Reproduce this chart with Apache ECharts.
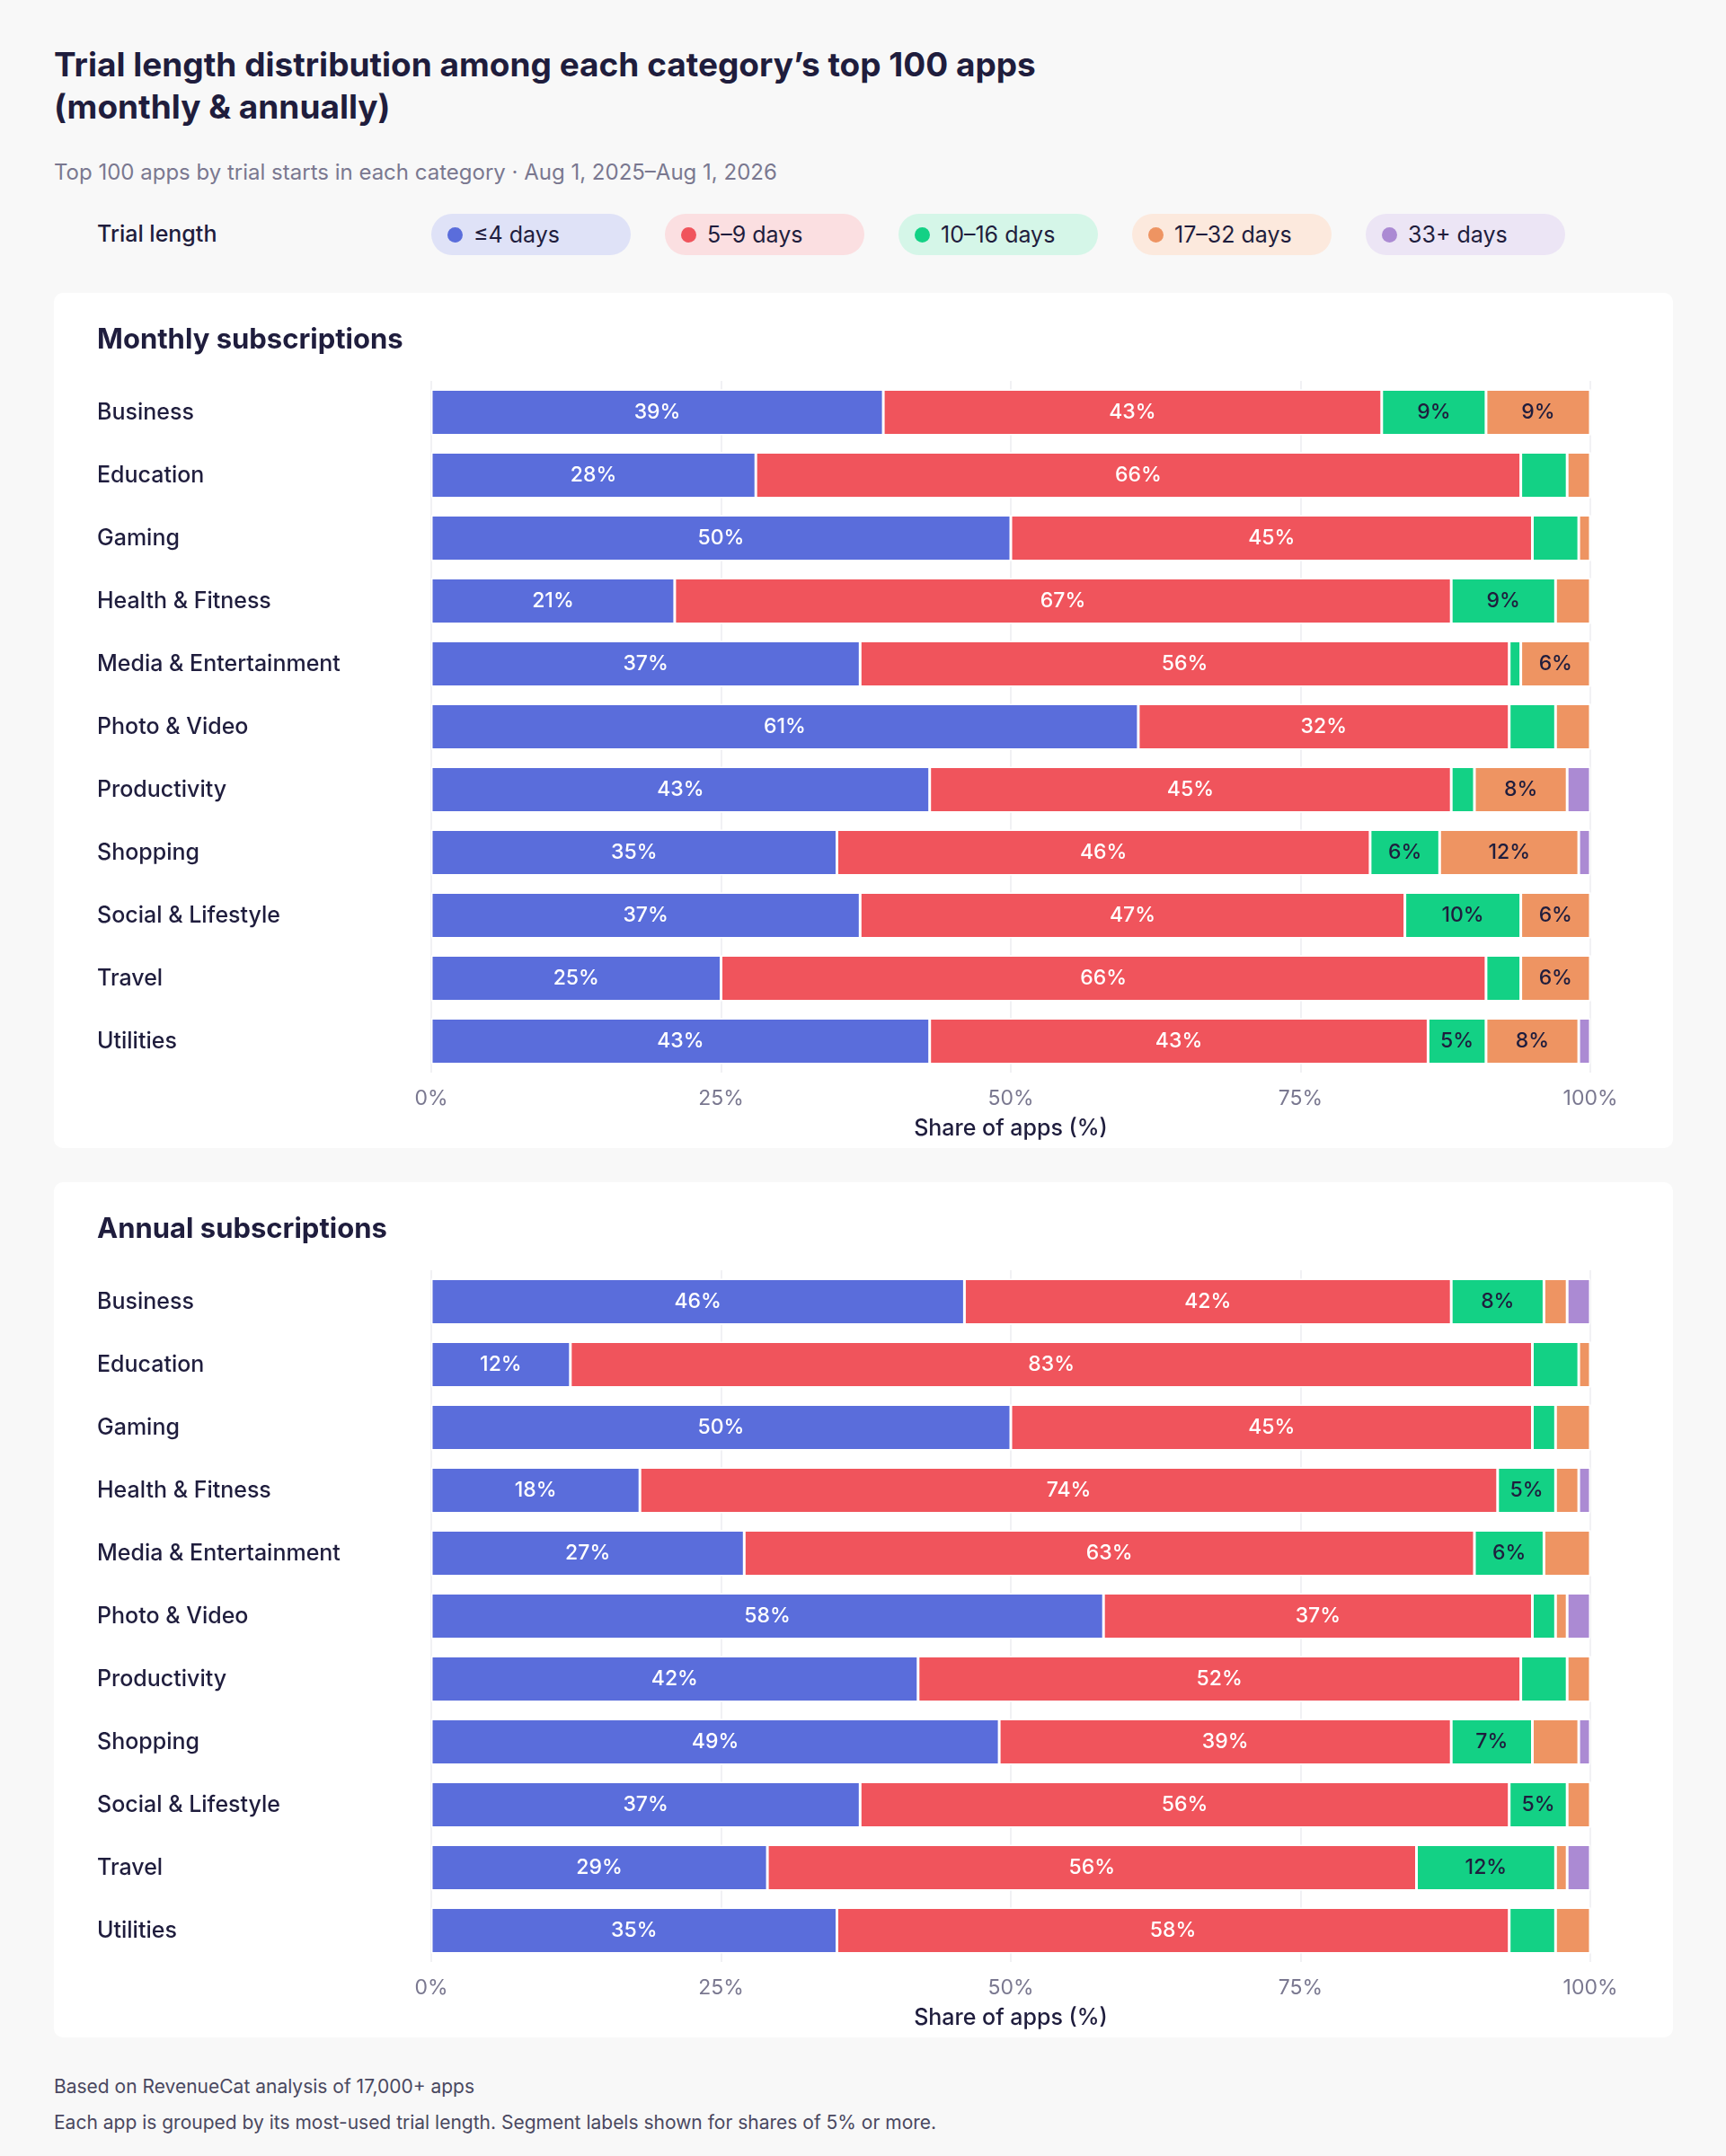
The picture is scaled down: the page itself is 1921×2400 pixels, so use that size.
<!DOCTYPE html>
<html>
<head>
<meta charset="utf-8">
<script src="https://cdn.jsdelivr.net/npm/echarts@6/dist/echarts.min.js"></script>
<style>
  body { margin: 0; background: #f8f8f8; font-family: Inter, "Noto Sans", sans-serif; color: #1f1d3d; }
  .page { position: relative; width: 1921px; height: 2400px; }
  h1 { position: absolute; left: 60px; top: 48px; margin: 0; font-size: 37px; line-height: 47px; font-weight: 700; }
  .sub { position: absolute; left: 60px; top: 177px; font-size: 24px; color: #7a7890; }
  .legend-title { position: absolute; left: 108px; top: 245px; font-size: 25px; font-weight: 500; }
  .pill { position: absolute; top: 238px; width: 222px; height: 46px; border-radius: 23px; font-size: 25px;
          display: flex; align-items: center; box-sizing: border-box; padding-left: 18px; }
  .pill i { width: 17px; height: 17px; border-radius: 50%; margin-right: 12px; display: inline-block; }
  .panel { position: absolute; left: 60px; width: 1802px; height: 952px; background: #fff; border-radius: 10px; }
  .panel h2 { position: absolute; left: 48px; top: 32px; margin: 0; font-size: 31px; font-weight: 700; }
  .panel .chart { position: absolute; left: 0; top: 0; width: 1802px; height: 952px; }
  .foot { position: absolute; left: 60px; font-size: 21px; color: #4a4860; }
</style>
</head>
<body>
<div class="page">
  <h1>Trial length distribution among each category’s top 100 apps<br>(monthly &amp; annually)</h1>
  <div class="sub">Top 100 apps by trial starts in each category · Aug 1, 2025–Aug 1, 2026</div>
  <div class="legend-title">Trial length</div>
  <div id="legend"></div>
  <div class="panel" style="top:326px"><div class="chart" id="monthly"></div><h2>Monthly subscriptions</h2></div>
  <div class="panel" style="top:1316px"><div class="chart" id="annual"></div><h2>Annual subscriptions</h2></div>
  <div class="foot" style="top:2310px">Based on RevenueCat analysis of 17,000+ apps</div>
  <div class="foot" style="top:2350px">Each app is grouped by its most-used trial length. Segment labels shown for shares of 5% or more.</div>
</div>
<script>
const categories = ["Business", "Education", "Gaming", "Health & Fitness", "Media & Entertainment",
  "Photo & Video", "Productivity", "Shopping", "Social & Lifestyle", "Travel", "Utilities"];
const trialLengths = ["≤4 days", "5–9 days", "10–16 days", "17–32 days", "33+ days"];
const colors = ["#5a6ddb", "#f0545c", "#13d185", "#ee9462", "#ab8ad3"];
const pillColors = ["#dfe2f7", "#fbdfe1", "#d5f6e8", "#fce9dd", "#ece5f5"];
const labelColors = ["#ffffff", "#ffffff", "#1f1d3d", "#1f1d3d", "#1f1d3d"];
const axisTicks = ["0%", "25%", "50%", "75%", "100%"];

// monthly, one array per trial length, in category order
const monthly4 = [39, 28, 50, 21, 37, 61, 43, 35, 37, 25, 43];
const monthly9 = [43, 66, 45, 67, 56, 32, 45, 46, 47, 66, 43];
const monthly16 = [9, 4, 4, 9, 1, 4, 2, 6, 10, 3, 5];
const monthly32 = [9, 2, 1, 3, 6, 3, 8, 12, 6, 6, 8];
const monthly33 = [0, 0, 0, 0, 0, 0, 2, 1, 0, 0, 1];

const annual4 = [46, 12, 50, 18, 27, 58, 42, 49, 37, 29, 35];
const annual9 = [42, 83, 45, 74, 63, 37, 52, 39, 56, 56, 58];
const annual16 = [8, 4, 2, 5, 6, 2, 4, 7, 5, 12, 4];
const annual32 = [2, 1, 3, 2, 4, 1, 2, 4, 2, 1, 3];
const annual33 = [2, 0, 0, 1, 0, 2, 0, 1, 0, 2, 0];

const legendBox = document.getElementById("legend");
trialLengths.forEach((name, i) => {
  const pill = document.createElement("div");
  pill.className = "pill";
  pill.style.left = (480 + i * 260) + "px";
  pill.style.background = pillColors[i];
  pill.innerHTML = `<i style="background:${colors[i]}"></i>${name}`;
  legendBox.appendChild(pill);
});

function renderPanel(id, seriesData) {
  const chart = echarts.init(document.getElementById(id));
  chart.setOption({
    animation: false,
    grid: { left: 420, width: 1290, top: 98, height: 770 },
    xAxis: {
      type: "value", min: 0, max: 100, interval: 25,
      name: "Share of apps (%)", nameLocation: "middle", nameGap: 50,
      nameTextStyle: { fontSize: 25, color: "#1f1d3d", fontWeight: 500, fontFamily: "Inter" },
      axisLabel: { fontSize: 23, color: "#7a7890", margin: 18, fontFamily: "Inter",
        formatter: (v) => axisTicks[v / 25] },
      axisLine: { show: false }, axisTick: { show: false },
      splitLine: { lineStyle: { color: "#ececf0", width: 1.5 } },
    },
    yAxis: {
      type: "category", data: categories, inverse: true,
      axisLine: { show: false }, axisTick: { show: false },
      axisLabel: { align: "left", margin: 372, fontSize: 25, color: "#1f1d3d", fontWeight: 500, fontFamily: "Inter" },
    },
    series: seriesData.map((data, i) => ({
      name: trialLengths[i], type: "bar", stack: "total", data: data, barWidth: 51,
      itemStyle: { color: colors[i], borderColor: "#fff", borderWidth: 1.5 },
      label: {
        show: true, position: "inside", fontSize: 23, fontWeight: 500, color: labelColors[i], fontFamily: "Inter",
        formatter: (p) => (p.value >= 5 ? p.value + "%" : ""),
      },
    })),
  });
}

renderPanel("monthly", [monthly4, monthly9, monthly16, monthly32, monthly33]);
renderPanel("annual", [annual4, annual9, annual16, annual32, annual33]);
</script>
</body>
</html>
